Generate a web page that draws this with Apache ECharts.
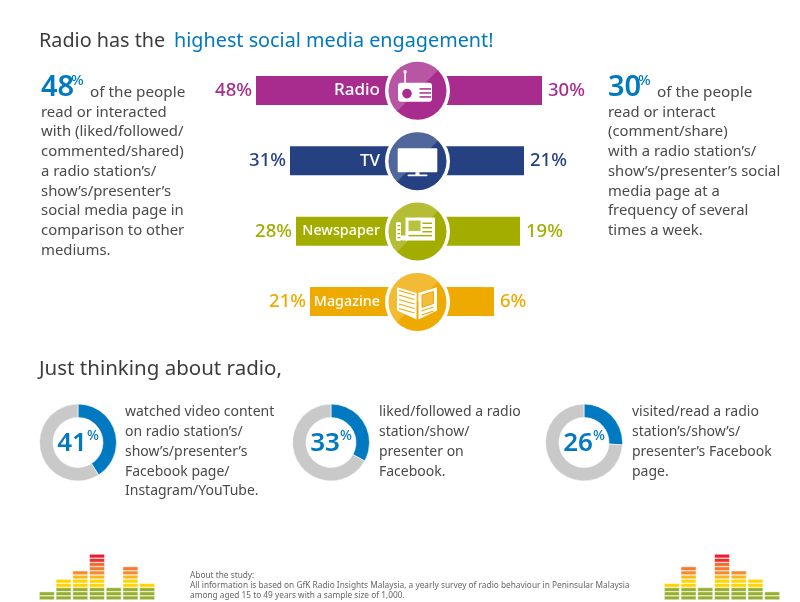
<!DOCTYPE html>
<html><head><meta charset="utf-8">
<script src="https://cdn.jsdelivr.net/npm/echarts@6/dist/echarts.min.js"></script>
<style>html,body{margin:0;padding:0;background:#fff}#c{width:800px;height:602px}</style>
</head><body><div id="c"></div>
<script>
const categories = ['Radio','TV','Newspaper','Magazine'];
const interactedValues = [48,31,28,21];
const frequentValues = [30,21,19,6];
const mediumColors = ['#A82C8E','#254182','#A2AD00','#EFAA00'];
const donutValues = [41,33,26];
const eqLevelsLeft = [2,5,7,11,3,8,4];
const eqLevelsRight = [4,8,3,11,7,5,2];
const eqRowColors = ['#96AE2E','#96AE2E','#96AE2E','#FFD400','#FFD400','#FBB81C','#F58A33','#F47A2C','#F26A2A','#EE2E34','#EE1C2E'];
const leftLines = ['read or interacted','with (liked/followed/','commented/shared)','a radio station’s/','show’s/presenter’s','social media page in','comparison to other','mediums.'];
const rightLines = ['read or interact','(comment/share)','with a radio station’s/','show’s/presenter’s social','media page at a','frequency of several','times a week.'];
const donutTexts = [
 ['watched video content','on radio station’s/','show’s/presenter’s','Facebook page/','Instagram/YouTube.'],
 ['liked/followed a radio','station/show/','presenter on','Facebook.'],
 ['visited/read a radio','station’s/show’s/','presenter’s Facebook','page.']
];
const footLines = ['About the study:','All information is based on GfK Radio Insights Malaysia, a yearly survey of radio behaviour in Peninsular Malaysia','among aged 15 to 49 years with a sample size of 1,000.'];

const FONT = '"Noto Sans"';
const INK = '#4A4A4A', BLUE = '#0079C1', GREY = '#C9C9C9';
const HUB = 32.5;          // the stretch of each bar hidden behind the round icon
const labelSizes = [17,17,14.3,14.3];

const barBase = {type:'bar',stack:'m',barWidth:29,silent:true,xAxisIndex:0,yAxisIndex:0};
const series = [
 {...barBase,name:'hubL',data:categories.map((c,i)=>({value:-HUB,itemStyle:{color:mediumColors[i]},
    label:{show:true,position:'insideRight',offset:[-32,0],formatter:'{b}',color:'#fff',fontFamily:FONT,fontWeight:500,fontSize:labelSizes[i]}}))},
 {...barBase,name:'interacted',data:interactedValues.map((v,i)=>({value:-v,itemStyle:{color:mediumColors[i]},
    label:{show:true,position:'left',distance:4,fontFamily:FONT,fontSize:18.5,fontWeight:500,color:mediumColors[i],formatter:p=>Math.abs(p.value)+'%'}}))},
 {...barBase,name:'hubR',data:categories.map((c,i)=>({value:HUB,itemStyle:{color:mediumColors[i]}}))},
 {...barBase,name:'frequent',data:frequentValues.map((v,i)=>({value:v,itemStyle:{color:mediumColors[i]},
    label:{show:true,position:'right',distance:6,fontFamily:FONT,fontSize:18.5,fontWeight:500,color:mediumColors[i],formatter:p=>Math.abs(p.value)+'%'}}))}
];

// donuts
const donutX = [78,331,584];
donutValues.forEach((v,i)=>{
  series.push({type:'pie',silent:true,center:[donutX[i],442.5],radius:[25,38.5],startAngle:90,clockwise:true,
    itemStyle:{borderColor:'#fff',borderWidth:0.6},labelLine:{show:false},
    data:[
     {value:v,itemStyle:{color:BLUE},label:{show:true,position:'center',offset:[0,1.5],formatter:'{n|'+v+'}{p|%}',
        rich:{n:{fontFamily:FONT,fontSize:26,fontWeight:600,color:BLUE},p:{fontFamily:FONT,fontSize:14,fontWeight:500,color:BLUE,verticalAlign:'top',lineHeight:30}}}},
     {value:100-v,itemStyle:{color:GREY},label:{show:false}}
    ]});
});

// equalizers, one stacked series per row colour
[[eqLevelsLeft,1],[eqLevelsRight,2]].forEach(([levels,ax])=>{
  eqRowColors.forEach((col,r)=>{
    series.push({type:'bar',stack:'eq'+ax,xAxisIndex:ax,yAxisIndex:ax,barWidth:15.5,silent:true,
      itemStyle:{color:col,borderColor:'#fff',borderWidth:0.5},
      data:levels.map(l=>l>r?1:null)});
  });
});

const option = {
 animation:false,backgroundColor:'#fff',
 grid:[
  {left:217,width:400,top:55.3,height:281.5},
  {left:38.5,width:117,top:554,height:46},
  {left:663.5,width:117,top:554,height:46}
 ],
 xAxis:[
  {type:'value',min:-100,max:100,show:false,gridIndex:0},
  {type:'category',data:eqLevelsLeft.map((v,i)=>i),show:false,gridIndex:1},
  {type:'category',data:eqLevelsRight.map((v,i)=>i),show:false,gridIndex:2}
 ],
 yAxis:[
  {type:'category',data:categories,inverse:true,show:false,gridIndex:0},
  {type:'value',min:0,max:11,show:false,gridIndex:1},
  {type:'value',min:0,max:11,show:false,gridIndex:2}
 ],
 series
};
const chart = echarts.init(document.getElementById('c'),null,{renderer:'canvas'});
chart.setOption(option);

const Z=40;
function txt(x,y,text,o={}){return {type:'text',z:50,silent:true,x,y,style:{text:String(text),fontFamily:FONT,fontSize:o.size||15,fontWeight:o.w||400,
  fill:o.c||INK,verticalAlign:'middle',align:'left'}};}
const Rect=(x,y,w,h,f,r)=>({type:'rect',z:Z,silent:true,shape:{x,y,width:w,height:h,r:r||0},style:{fill:f||'#fff'}});
const Circ=(cx,cy,r,f)=>({type:'circle',z:Z,silent:true,shape:{cx,cy,r},style:{fill:f||'#fff'}});
const Poly=(pts,f,stroke)=>({type:'polygon',z:Z,silent:true,shape:{points:pts},style:stroke?{fill:f,stroke,lineWidth:1}:{fill:f||'#fff'}});
const Ln=(a,b,c,d,col)=>({type:'line',z:Z,silent:true,shape:{x1:a,y1:b,x2:c,y2:d},style:{stroke:col,lineWidth:1.1}});
function icon(i){
 const c=mediumColors[i];
 if(i===0) return [
   Rect(-13.2,-18,1.6,11),Circ(-12.4,-19,1.7),
   Rect(-19.5,-8,34,19,'#fff',3),
   Circ(-10.5,2.8,4.8,c),
   Rect(2,-2.6,11.5,1.5,c),Rect(2,1.4,11.5,1.5,c),Rect(2,5.4,11.5,1.5,c)];
 if(i===1) return [
   Rect(-19.8,-13,39.6,24,'#fff',1),Rect(-2,11,4,3),Rect(-10,13.4,20,1.8,'#fff',.8)];
 if(i===2) return [
   Rect(-12,-14,29.5,23),Rect(-17,4,8,5,'#fff',2),
   Rect(-9,-11,12,10.5,'#BAC23F'),
   Rect(5,-9,9.5,1.4,c),Rect(5,-4.5,9.5,1.4,c),Rect(5,-0.5,9.5,1.4,c),Rect(-9,3.4,23.5,1.4,c),
   Rect(-21.5,-9.5,5,19,'#fff',1.5),
   Rect(-20,-6.5,2.8,1.2,c),Rect(-20,-2.5,2.8,1.2,c),Rect(-20,1.5,2.8,1.2,c),Rect(-20,5.5,2.8,1.2,c)];
 const pageLines=[[-18.5,-11.5,-3,-7],[-18.5,-7,-3,-2.5],[-18.5,-2.5,-3,2],[-18.5,2,-3,6.5],[-18.5,6.5,-3,11]];
 return [
   Poly([[-20.5,-14.7],[-1,-9],[-1,17.7],[-20.5,8.7]]),Poly([[1,-9],[19.5,-14.7],[19.5,8.7],[1,17.7]]),
   ...pageLines.map(l=>Ln(l[0],l[1],l[2],l[3],c)),
   Poly([[4.5,-7],[16,-10.5],[16,1.5],[4.5,5.5]],'#F3BE3F',c),
   Ln(4,9,16,5,c),Ln(4,13,16,9,c)];
}
const g=[];
categories.forEach((name,i)=>{
  const [cx,cy]=chart.convertToPixel({xAxisIndex:0,yAxisIndex:0},[0,name]);
  g.push({type:'group',x:cx+0.5,y:cy+0.3,silent:true,children:[
    Circ(0,0,32.5),
    Circ(0,0,29,mediumColors[i]),
    {type:'sector',z:Z,silent:true,shape:{cx:0,cy:0,r0:0,r:29,startAngle:Math.PI*0.75,endAngle:Math.PI*1.75,clockwise:true},style:{fill:'rgba(255,255,255,0.2)'}},
    ...icon(i)
  ]});
});
// headline
g.push(txt(39,41,'Radio has the',{size:19.8,c:'#3C3C3C'}));
g.push(txt(174,41,'highest social media engagement!',{size:19.8,c:BLUE}));
g.push(txt(39,369.5,'Just thinking about radio,',{size:20.5,c:'#3C3C3C'}));
// left paragraph
g.push(txt(41,88,interactedValues[0],{size:29,w:600,c:BLUE}));
g.push(txt(71,81,'%',{size:15,w:500,c:BLUE}));
g.push(txt(90,93,'of the people',{size:15.3}));
leftLines.forEach((s,i)=>g.push(txt(41,112.5+i*19.7,s,{size:14.9})));
// right paragraph
g.push(txt(608,88,frequentValues[0],{size:29,w:600,c:BLUE}));
g.push(txt(638,81,'%',{size:15,w:500,c:BLUE}));
g.push(txt(657,93,'of the people',{size:15.3}));
rightLines.forEach((s,i)=>g.push(txt(608,112.5+i*19.7,s,{size:14.8})));
// donut captions
[125,379,632].forEach((x,k)=>donutTexts[k].forEach((s,i)=>g.push(txt(x,412.5+i*19.7,s,{size:14}))));
footLines.forEach((s,i)=>g.push(txt(190,576+i*10,s,{size:8.3,c:'#666'})));
chart.setOption({graphic:{elements:g}});
</script></body></html>
